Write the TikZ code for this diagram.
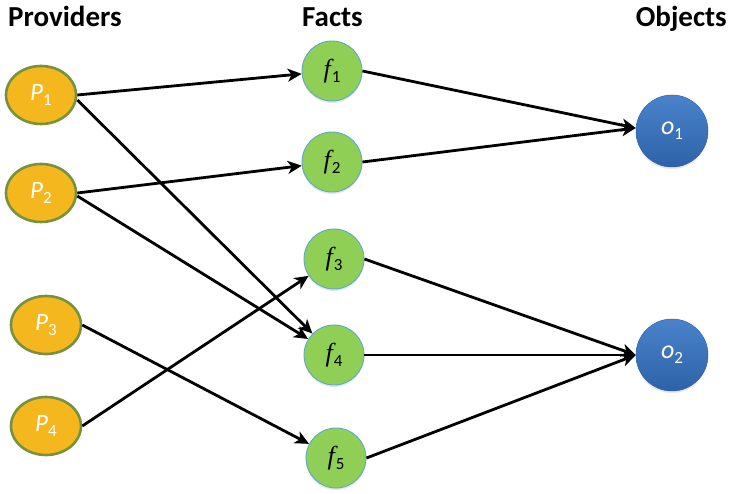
\documentclass[tikz,border=0pt]{standalone}
\usepackage{fontspec}
\setmainfont{Carlito}
\newfontfamily\serifit{Liberation Serif}
\usetikzlibrary{arrows.meta,shapes.geometric,shadows}
\definecolor{provfill}{HTML}{F4B81E}
\definecolor{provborder}{HTML}{76923C}
\definecolor{factfill}{HTML}{8FCF55}
\definecolor{factborder}{HTML}{5BA9C9}
\definecolor{objtop}{HTML}{4A83CB}
\definecolor{objbot}{HTML}{2D62A8}
\newcommand\lab[2]{#1\raisebox{-0.4ex}{\fontsize{17}{17}\selectfont\upshape #2}}
\newcommand\flab[1]{{\serifit\itshape f}\kern1pt\raisebox{-0.4ex}{\fontsize{17}{17}\selectfont\upshape #1}}
\begin{document}
\begin{tikzpicture}[x=1pt,y=-1pt,
  prov/.style={ellipse, draw=provborder, line width=2.6pt, fill=provfill,
    minimum width=70pt, minimum height=58pt, inner sep=0pt, text=white,
    font=\fontsize{25}{26}\selectfont\itshape},
  fact/.style={circle, draw=factborder, line width=0.9pt, fill=factfill,
    minimum size=60pt, inner sep=0pt,
    drop shadow={opacity=0.2, shadow xshift=0pt, shadow yshift=-2pt},
    font=\fontsize{26}{28}\selectfont},
  obj/.style={circle, minimum size=72pt, inner sep=0pt, text=white,
    top color=objtop, bottom color=objbot, draw=objbot, line width=0.5pt,
    drop shadow={opacity=0.2, shadow xshift=0pt, shadow yshift=-2pt},
    font=\fontsize{26}{28}\selectfont\itshape},
  head/.style={font=\fontsize{29}{32}\selectfont\bfseries, anchor=base west, inner sep=0pt},
  link/.style={line width=2.8pt, -{Stealth[length=14pt,width=13pt,inset=4pt]}}
]
\useasboundingbox (0,0) rectangle (730,494);

\node[head] (hp) at (8,27) {Providers};
\node[head] (hf) at (302,27) {Facts};
\node[head, anchor=base east] (ho) at (727,27) {Objects};

\node[prov] (p1) at (41,95) {\lab{P}{1}};
\node[prov] (p2) at (41,193) {\lab{P}{2}};
\node[prov] (p3) at (46,325) {\lab{P}{3}};
\node[prov] (p4) at (46,426) {\lab{P}{4}};

\node[fact] (f1) at (332,71) {\flab{1}};
\node[fact] (f2) at (332,162) {\flab{2}};
\node[fact] (f3) at (334,259) {\flab{3}};
\node[fact] (f4) at (334,355) {\flab{4}};
\node[fact] (f5) at (336,458) {\flab{5}};

\node[obj] (o1) at (672,131) {\lab{o}{1}};
\node[obj] (o2) at (672,355) {\lab{o}{2}};

\draw[link] (p1.east) -- (f1);
\draw[link] ([yshift=-5pt]p1.east) -- (f4);
\draw[link] (p2.east) -- (f2);
\draw[link] ([yshift=-3pt]p2.east) -- (f4);
\draw[link] (p3.east) -- (f5);
\draw[link] (p4.east) -- (f3);
\draw[link] (f1.east) -- ([yshift=3pt]o1.west);
\draw[link] (f2.east) -- ([yshift=3pt]o1.west);
\draw[link] (f3.east) -- (o2.west);
\draw[link] (f4.east) -- (o2.west);
\draw[link] (f5.east) -- (o2.west);
\end{tikzpicture}
\end{document}
